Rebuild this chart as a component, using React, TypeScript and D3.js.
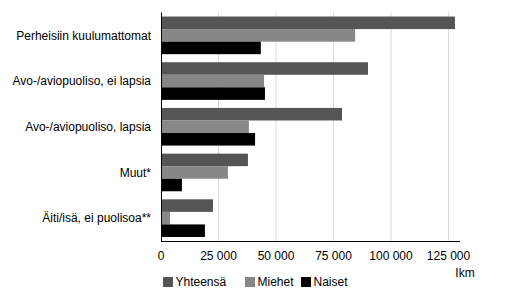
import React from "react";
import * as d3 from "d3";

const categories = [
  "Perheisiin kuulumattomat",
  "Avo-/aviopuoliso, ei lapsia",
  "Avo-/aviopuoliso, lapsia",
  "Muut*",
  "Äiti/isä, ei puolisoa**",
];
const seriesNames = ["Yhteensä", "Miehet", "Naiset"];
const yhteensa = [127800, 90000, 78700, 37800, 22600];
const miehet = [84400, 44800, 38200, 29100, 3900];
const naiset = [43400, 45200, 40900, 9100, 19100];
const ticks = [0, 25000, 50000, 75000, 100000, 125000];
const colors = ["#555555", "#878787", "#000000"];

export default function App() {
  const W = 510, H = 302;
  const left = 161, right = 460, top = 12.5, bottom = 241;
  const x = d3.scaleLinear().domain([0, 130000]).range([left, right]);
  const y = d3.scaleBand().domain(categories).range([top, bottom]).paddingInner(0.176).paddingOuter(0.088);
  const seriesData = [yhteensa, miehet, naiset];
  const sub = d3.scaleBand().domain(seriesNames).range([0, y.bandwidth()]);
  const fmt = (v: number) => d3.format(",")(v).replace(/,/g, " ");
  const font = "Liberation Sans, Arial, sans-serif";
  const legendX = [163, 245, 301];
  return (
    <svg width={W} height={H} style={{ position: "absolute", left: 0, top: 0 }} fontFamily={font}>
      <rect width={W} height={H} fill="#fff" />
      {ticks.slice(1).map((t) => (
        <line key={t} x1={x(t)} x2={x(t)} y1={top} y2={bottom} stroke="#d9d9d9" />
      ))}
      {categories.map((c, i) => (
        <g key={c}>
          {seriesNames.map((s, j) => (
            <rect
              key={s}
              x={x(0)}
              y={(y(c) as number) + (sub(s) as number)}
              width={x(seriesData[j][i]) - x(0)}
              height={sub.bandwidth()}
              fill={colors[j]}
            />
          ))}
          <text x={151} y={(y(c) as number) + y.bandwidth() / 2} dy="0.35em" textAnchor="end" fontSize={12} fill="#000">
            {c}
          </text>
        </g>
      ))}
      <line x1={left + 0.5} x2={left + 0.5} y1={top} y2={bottom} stroke="#000" />
      <line x1={left} x2={right} y1={bottom + 0.5} y2={bottom + 0.5} stroke="#000" />
      {ticks.map((t) => (
        <text key={t} x={x(t)} y={256} dy="0.35em" textAnchor="middle" fontSize={12} fill="#000">
          {fmt(t)}
        </text>
      ))}
      <text x={465} y={273} dy="0.35em" textAnchor="middle" fontSize={12} fill="#000">Ikm</text>
      {seriesNames.map((s, j) => (
        <g key={s}>
          <rect x={legendX[j]} y={277} width={10} height={10} fill={colors[j]} />
          <text x={legendX[j] + 12.5} y={282} dy="0.35em" fontSize={12} fill="#000">{s}</text>
        </g>
      ))}
    </svg>
  );
}
